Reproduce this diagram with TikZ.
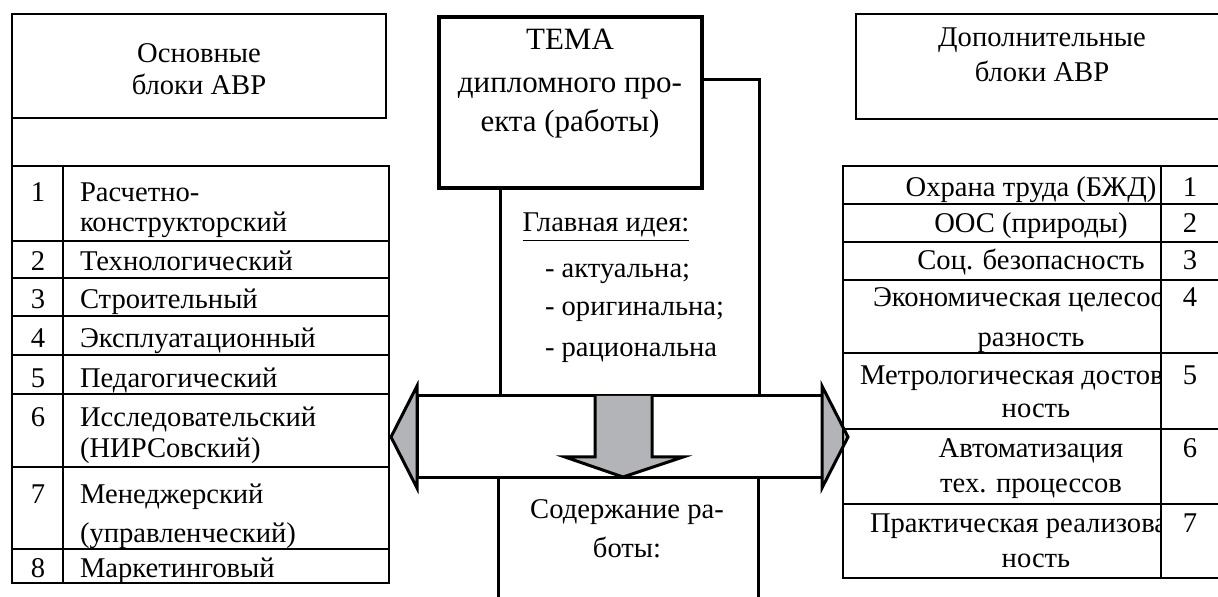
\documentclass[tikz,border=0pt]{standalone}
\usepackage{fontspec}
\setmainfont{Liberation Serif}
\definecolor{headgray}{RGB}{178,180,183}
\begin{document}
\begin{tikzpicture}[x=0.5pt,y=-0.5pt,
  font=\fontsize{14.3}{17}\selectfont,
  every node/.style={outer sep=0pt},
  txt/.style={inner sep=0pt, anchor=base west},
  ctxt/.style={inner sep=0pt, anchor=base},
  tbl/.style={line width=1pt},
  hdr/.style={line width=1.3pt},
  cline/.style={line width=1.5pt},
  bigbox/.style={draw, line width=2pt, inner sep=0pt},
  head/.style={draw, line width=1.5pt, fill=headgray, line join=miter}]
\useasboundingbox (0,0) rectangle (1218,597);
\clip (0,0) rectangle (1218,597);

% ---------- left: main blocks ----------
\node[draw, hdr, minimum width=187pt, minimum height=52pt, inner sep=0pt] (lhdr) at (199,66) {};
\node[ctxt] (lh1) at (199,63) {Основные};
\node[ctxt] (lh2) at (199,95) {блоки АВР};
\coordinate (ltabtop) at (12,166);
\draw[hdr] (lhdr.south west) -- (ltabtop);

\draw[tbl] (12,166) rectangle (389,583);
\draw[tbl] (63,166) -- (63,583);
\foreach \y in {241,278,316,355,394,467,549} \draw[tbl] (12,\y) -- (389,\y);

\node[ctxt] (ln1) at (38,202) {1};
\node[txt] (lt1a) at (80,202) {Расчетно-};
\node[txt] (lt1b) at (80,232) {конструкторский};
\node[ctxt] (ln2) at (38,271) {2};
\node[txt] (lt2) at (80,271) {Технологический};
\node[ctxt] (ln3) at (38,309) {3};
\node[txt] (lt3) at (80,309) {Строительный};
\node[ctxt] (ln4) at (38,348) {4};
\node[txt] (lt4) at (80,348) {Эксплуатационный};
\node[ctxt] (ln5) at (38,388) {5};
\node[txt] (lt5) at (80,388) {Педагогический};
\node[ctxt] (ln6) at (38,427) {6};
\node[txt] (lt6a) at (80,427) {Исследовательский};
\node[txt] (lt6b) at (80,458) {(НИРСовский)};
\node[ctxt] (ln7) at (38,503) {7};
\node[txt] (lt7a) at (80,503) {Менеджерский};
\node[txt] (lt7b) at (80,542) {(управленческий)};
\node[ctxt] (ln8) at (38,577) {8};
\node[txt] (lt8) at (80,577) {Маркетинговый};

% ---------- centre ----------
\node[bigbox, minimum width=131.5pt, minimum height=85.5pt] (tema) at (570.5,102.5) {};
\begin{scope}[font=\fontsize{15.5}{18}\selectfont]
\node[ctxt] (tm1) at (570,50) {ТЕМА};
\node[ctxt] (tm2) at (570,93) {дипломного про-};
\node[ctxt] (tm3) at (570,132) {екта (работы)};
\end{scope}

% horizontal double arrow
\node[draw, cline, fill=white, minimum width=202.5pt, minimum height=41pt, inner sep=0pt] (bar) at (619.5,437) {};
\draw[head] (bar.north west) ++(0,-10) coordinate (lhA) -- ++(-26,51) coordinate (ltip) -- ++(26,51) coordinate (lhB) -- cycle;
\draw[head] (bar.north east) ++(0,-10) coordinate (rhA) -- ++(26,51) coordinate (rtip) -- ++(-26,51) coordinate (rhB) -- cycle;

% connectors from the TEMA box down to the bar
\coordinate (vl) at (500,188);
\coordinate (tr) at (759,80);
\draw[cline] (vl) -- (vl |- bar.north);
\draw[cline] (tema.east |- tr) -- (tr) -- (tr |- bar.north);

\node[ctxt] (idea) at (606,232) {\underline{Главная идея:}};
\node[txt] (i1) at (545,278) {- актуальна;};
\node[txt] (i2) at (545,316) {- оригинальна;};
\node[txt] (i3) at (545,357) {- рациональна};

% down arrow
\draw[head] (595,396) -- (595,457) -- (565,457) -- (623,477) -- (683,457) -- (652,457) -- (652,396);

% content box below
\coordinate (cbl) at (498,600);
\coordinate (cbr) at (758,600);
\draw[cline] (cbl |- bar.south) -- (cbl);
\draw[cline] (cbr |- bar.south) -- (cbr);
\node[ctxt] (c1) at (627,518) {Содержание ра-};
\node[ctxt] (c2) at (627,557) {боты:};

% ---------- right: additional blocks ----------
\node[draw, hdr, minimum width=190pt, minimum height=52.5pt, inner sep=0pt, anchor=north west] (rhdr) at (856,14) {};
\node[ctxt] (rh1) at (1042,47) {Дополнительные};
\node[ctxt] (rh2) at (1042,82) {блоки АВР};

\draw[tbl] (843,166) rectangle (1240,578);
\draw[tbl] (1161,166) -- (1161,578);
\foreach \y in {204,242,280,353,429,504} \draw[tbl] (843,\y) -- (1240,\y);

\node[ctxt] (rn1) at (1190,197) {1};
\node[ctxt] (rt1) at (1031,197) {Охрана труда (БЖД)};
\node[ctxt] (rn2) at (1190,233) {2};
\node[ctxt] (rt2) at (1031,233) {ООС (природы)};
\node[ctxt] (rn3) at (1190,270) {3};
\node[ctxt] (rt3) at (1031,270) {Соц. безопасность};
\node[ctxt] (rn4) at (1190,307) {4};
\node[ctxt] (rn5) at (1190,385) {5};
\node[ctxt] (rn6) at (1190,458) {6};
\node[ctxt] (rn7) at (1190,532) {7};
\begin{scope}
\clip (843,166) rectangle (1160,578);
\node[txt] (rt4a) at (873,307) {Экономическая целесоо};
\node[txt] (rt5a) at (860,385) {Метрологическая достов};
\node[txt] (rt7a) at (870,532) {Практическая реализова};
\end{scope}
\node[ctxt] (rt4b) at (1031,347) {разность};
\node[ctxt] (rt5b) at (1036,418) {ность};
\node[ctxt] (rt6a) at (1031,458) {Автоматизация};
\node[ctxt] (rt6b) at (1031,493) {тех. процессов};
\node[ctxt] (rt7b) at (1036,567) {ность};
\end{tikzpicture}
\end{document}
